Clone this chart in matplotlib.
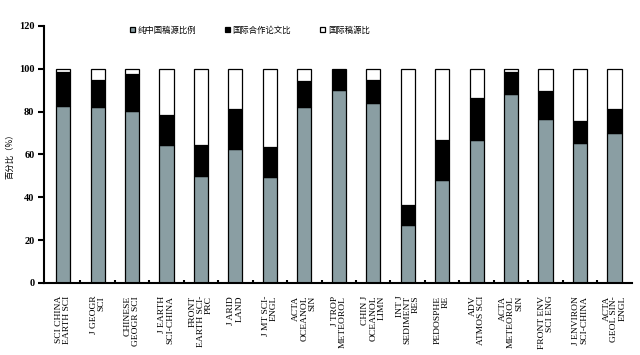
import matplotlib
matplotlib.use("Agg")
import matplotlib.pyplot as plt
import numpy as np

journals = ["SCI CHINA\nEARTH SCI", "J GEOGR\nSCI", "CHINESE\nGEOGR SCI",
            "J EARTH\nSCI-CHINA", "FRONT\nEARTH SCI-\nPRC", "J ARID\nLAND",
            "J MT SCI-\nENGL", "ACTA\nOCEANOL\nSIN", "J TROP\nMETEOROL",
            "CHIN J\nOCEANOL\nLIMN", "INT J\nSEDIMENT\nRES", "PEDOSPHE\nRE",
            "ADV\nATMOS SCI", "ACTA\nMETEOROL\nSIN", "FRONT ENV\nSCI ENG",
            "J ENVIRON\nSCI-CHINA", "ACTA\nGEOL SIN-\nENGL"]

# 纯中国稿源比例
pure_cn = [82.8, 82.0, 80.1, 64.6, 49.9, 62.5, 49.5, 82.0, 90.2,
           83.9, 27.1, 48.1, 66.7, 88.4, 76.4, 65.3, 69.9]
# 国际合作论文比
collab = [15.8, 12.9, 17.4, 14.0, 14.3, 18.9, 13.8, 12.1, 9.0,
          11.0, 9.3, 18.7, 19.8, 9.9, 13.1, 10.2, 11.5]
# 国际稿源比
intl = [1.4, 5.1, 2.5, 21.4, 35.8, 18.6, 36.7, 5.9, 0.8,
        5.1, 63.6, 33.2, 13.5, 1.7, 10.5, 24.5, 18.6]

labels = ["纯中国稿源比例", "国际合作论文比", "国际稿源比"]

plt.rcParams['font.family'] = ['Liberation Serif', 'Noto Sans CJK SC', 'DejaVu Sans']

fig = plt.figure(figsize=(6.4, 3.55), dpi=100)
ax = fig.add_axes([0.069, 0.203, 0.918, 0.724])

x = np.arange(len(journals))
w = 0.41
b1 = ax.bar(x, pure_cn, w, color="#8a9ea3", edgecolor="black", linewidth=0.9, label=labels[0])
b2 = ax.bar(x, collab, w, bottom=pure_cn, color="black", edgecolor="black", linewidth=0.9, label=labels[1])
bottom2 = np.array(pure_cn) + np.array(collab)
b3 = ax.bar(x, intl, w, bottom=bottom2, color="white", edgecolor="black", linewidth=0.9, label=labels[2])

ax.set_xlim(-0.55, 16.5)
ax.set_ylim(0, 120)
ax.set_yticks(range(0, 121, 20))
ax.tick_params(axis='y', direction='out', length=4, width=1.5, labelsize=7.5, pad=3)
for t in ax.get_yticklabels():
    t.set_fontweight('bold')

ax.set_xticks(x)
ax.set_xticklabels([])
ax.set_xticks(np.arange(0.5, 16.5, 1), minor=True)
ax.tick_params(axis='x', which='major', length=0)
ax.tick_params(axis='x', which='minor', direction='in', length=2.5, width=1.5)

for xi, name in zip(x, journals):
    ax.text(xi, -6, name, rotation=90, ha='center', va='top', multialignment='right',
            fontsize=6.8, linespacing=1.0)

for s in ['top', 'right']:
    ax.spines[s].set_visible(False)
ax.spines['left'].set_linewidth(1.5)
ax.spines['bottom'].set_linewidth(1.5)

ax.set_ylabel("百分比（%）", fontsize=6, family=['Noto Sans CJK SC', 'DejaVu Sans'], labelpad=3)

leg = ax.legend(handles=[b1, b2, b3], loc='upper center', bbox_to_anchor=(0.35, 1.03), ncol=3,
                frameon=False, handlelength=0.6, handleheight=0.6, handletextpad=0.3,
                columnspacing=3.5, prop={'family': ['Noto Sans CJK SC', 'DejaVu Sans'], 'size': 6})

fig.savefig("out.png", dpi=100)
